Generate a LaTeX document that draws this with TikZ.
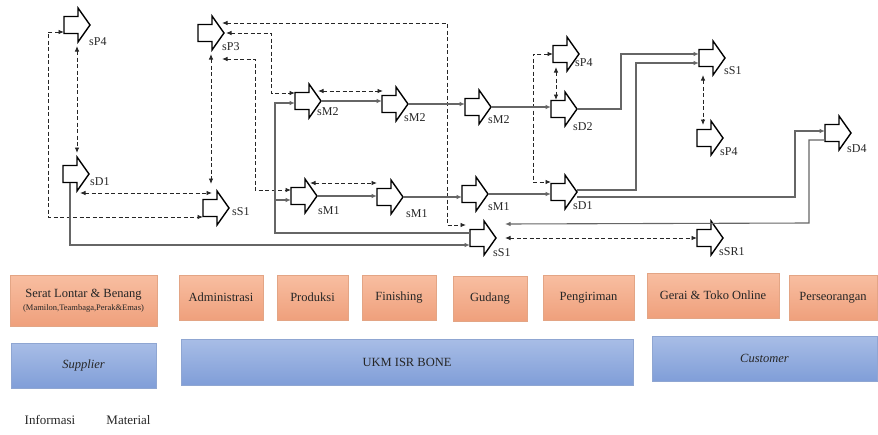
\documentclass[tikz,border=0pt]{standalone}
\usepackage{fontspec}
\setmainfont{Liberation Serif}
\usetikzlibrary{arrows.meta,calc}

\definecolor{salmontop}{HTML}{F8BEA1}
\definecolor{salmonbot}{HTML}{EFA07C}
\definecolor{salmonrim}{HTML}{E3A585}
\definecolor{bluetop}{HTML}{A8BDE6}
\definecolor{bluebot}{HTML}{809ED8}
\definecolor{bluerim}{HTML}{8FA6D2}

% one block arrow: named node plus its outline
\newcommand\blockarrow[3]{%
  \node[blkbox] (#1) at ({#2+13},{#3}) {};
  \draw[blkline] ($(#1.west)+(0,-8.5)$) -- ++(14,0) -- ++(0,-8.5) -- ++(12,17)
    -- ++(-12,17) -- ++(0,-8.5) -- ++(-14,0) -- cycle;
}

\begin{document}
\begin{tikzpicture}[x=1pt,y=-1pt,
  blkbox/.style={rectangle,minimum width=26pt,minimum height=34pt,inner sep=0pt,outer sep=0pt},
  blkline/.style={draw=black,line width=1.4pt,line join=miter},
  lbl/.style={font=\fontsize{12}{14}\selectfont,inner sep=0pt,anchor=west,text=black!85},
  info/.style={draw=black!85,line width=0.9pt,dash pattern=on 4pt off 2.5pt},
  mat/.style={draw=black!60,line width=1.1pt},
  biarr/.style={{Latex[length=5.5pt,width=4.5pt]}-{Latex[length=5.5pt,width=4.5pt]}},
  onearr/.style={-{Latex[length=5.5pt,width=4.5pt]}},
  obox/.style={rectangle,draw=salmonrim,line width=0.6pt,top color=salmontop,bottom color=salmonbot,
    inner sep=0pt,font=\fontsize{12.5}{14}\selectfont,text=black!85},
  bbox/.style={rectangle,draw=bluerim,line width=0.6pt,top color=bluetop,bottom color=bluebot,
    inner sep=0pt,font=\fontsize{12.5}{14}\selectfont,text=black!85},
  legend/.style={font=\fontsize{13}{15}\selectfont,inner sep=0pt,text=black!85}
]
\useasboundingbox (0,0) rectangle (878,434);

% ---- block arrows (name, body left x, centre y)
\blockarrow{sP4L}{64}{25}
\blockarrow{sD1L}{63}{174}
\blockarrow{sP3}{198}{33}
\blockarrow{sS1L}{203}{208}
\blockarrow{sM2a}{295}{101}
\blockarrow{sM2b}{382}{104}
\blockarrow{sM2c}{465}{107}
\blockarrow{sM1a}{291}{196}
\blockarrow{sM1b}{377}{197}
\blockarrow{sM1c}{462}{194}
\blockarrow{sS1m}{470}{238}
\blockarrow{sP4m}{553}{54}
\blockarrow{sD2}{551}{109}
\blockarrow{sD1r}{551}{192}
\blockarrow{sS1r}{699}{58}
\blockarrow{sP4r}{697}{138}
\blockarrow{sD4}{825}{133}
\blockarrow{sSR1}{697}{238}

% ---- labels
\node[lbl] (lsP4L) at (89,42) {sP4};
\node[lbl] (lsD1L) at (90,182) {sD1};
\node[lbl] (lsP3) at (222,47) {sP3};
\node[lbl] (lsS1L) at (232,212) {sS1};
\node[lbl] (lsM2a) at (317,112) {sM2};
\node[lbl] (lsM2b) at (404,118) {sM2};
\node[lbl] (lsM2c) at (488,120) {sM2};
\node[lbl] (lsM1a) at (318,211) {sM1};
\node[lbl] (lsM1b) at (406,214) {sM1};
\node[lbl] (lsM1c) at (488,207) {sM1};
\node[lbl] (lsS1m) at (493,253) {sS1};
\node[lbl] (lsP4m) at (575,63) {sP4};
\node[lbl] (lsD2) at (573,127) {sD2};
\node[lbl] (lsD1r) at (573,206) {sD1};
\node[lbl] (lsS1r) at (724,71) {sS1};
\node[lbl] (lsP4r) at (720,152) {sP4};
\node[lbl] (lsD4) at (847,149) {sD4};
\node[lbl] (lsSR1) at (719,252) {sSR1};

% ---- information flows (dashed, both ways)
\draw[info,biarr,shorten <=4pt,shorten >=4pt] (sP4L.south) -- (sP4L.south |- sD1L.north);
\draw[info,biarr,shorten <=4pt,shorten >=7pt] (sP3.south) -- (sP3.south |- sS1L.north);
\draw[info,biarr] ($(sD1L.south)+(4,2)$) -- ($(sS1L.north)+(-4,2)$);
\draw[info,biarr] (sP4L.west |- 0,32) -| (48,217) -- (sS1L.west |- 0,217);
\draw[info,biarr,shorten >=4pt] ($(sP3.east)+(-2,-10)$) -| (447,225) -- (sS1m.west |- 0,225);
\draw[info,biarr] ($(sP3.east)+(2,0)$) -| (271,93) -- (sM2a.west |- 0,93);
\draw[info,biarr] ($(sP3.south)+(11,9)$) -| (255,190) -- (sM1a.west |- 0,190);
\draw[info,biarr] ($(sM2a.east)+(-3,-10)$) -- ($(sM2b.west)+(1,-13)$);
\draw[info,biarr] ($(sM1a.east)+(-7,-13)$) -- ($(sM1b.west)+(0,-14)$);
\draw[info,biarr] (sP4m.west) -| (533,182) -- (sD1r.west |- 0,182);
\draw[info,biarr] ($(sP4m.south west)+(3,-4)$) -- ($(sD2.north west)+(5,8)$);
\draw[info,biarr] ($(sS1r.south west)+(4,0)$) -- ($(sP4r.north west)+(6,4)$);
\draw[info,biarr] ($(sS1m.east)+(9,0)$) -- (sSR1.west |- sS1m.east);

% ---- material flows (solid)
\coordinate (split) at (275,200);
\draw[mat,onearr] (sS1m.west |- 0,233) -| (275,103) -- (sM2a.west |- 0,103);
\draw[mat,onearr] (split) -- (sM1a.west |- split);
\draw[mat,onearr] ($(sD1L.west)+(7,8.5)$) |- (sS1m.west |- 0,245);
\draw[mat,onearr] (sM2a.east) -- (sM2a.east -| sM2b.west);
\draw[mat,onearr] (sM2b.east) -- (sM2b.east -| sM2c.west);
\draw[mat,onearr] (sM2c.east) -- (sM2c.east -| sD2.west);
\draw[mat,onearr] (sM1a.east) -- (sM1a.east -| sM1b.west);
\draw[mat,onearr] (sM1b.east) -- (sM1b.east -| sM1c.west);
\draw[mat,onearr] (sM1c.east) -- (sM1c.east -| sD1r.west);
\draw[mat,onearr] (sD2.east) -| (621,54) -- (sS1r.west |- 0,54);
\draw[mat,onearr] ($(sD1r.east)+(0,-2)$) -| (636,63) -- (sS1r.west |- 0,63);
\draw[mat,onearr] ($(sD1r.east)+(0,5)$) -| (795,131) -- (sD4.west |- 0,131);
\draw[mat,onearr] (sD4.west |- 0,140) -| (809,223) -- ($(sS1m.east)+(9,-14)$);

% ---- actor boxes
\node[obox,minimum width=147pt,minimum height=51pt,align=center] (serat) at (83.5,300.5)
  {Serat Lontar \& Benang\\[-1pt]{\fontsize{8.5}{10}\selectfont(Mamilon,Teambaga,Perak\&Emas)}};
\node[obox,minimum width=84pt,minimum height=45pt] (adm) at (221,297.5) {Administrasi};
\node[obox,minimum width=71pt,minimum height=45pt] (prod) at (312.5,297.5) {Produksi};
\node[obox,minimum width=74pt,minimum height=45pt] (fin) at (399,297.5) {Finishing};
\node[obox,minimum width=74pt,minimum height=45pt] (gud) at (490,298.5) {Gudang};
\node[obox,minimum width=91pt,minimum height=45pt] (kirim) at (588.5,297.5) {Pengiriman};
\node[obox,minimum width=132pt,minimum height=45pt] (gerai) at (713,295.5) {Gerai \& Toko Online};
\node[obox,minimum width=88pt,minimum height=45pt] (orang) at (833,297.5) {Perseorangan};

\node[bbox,minimum width=145pt,minimum height=45pt,font=\fontsize{12.5}{14}\selectfont\itshape] (sup) at (83.5,365.5) {Supplier};
\node[bbox,minimum width=452pt,minimum height=46pt] (ukm) at (407,362) {UKM ISR BONE};
\node[bbox,minimum width=225pt,minimum height=45pt,font=\fontsize{12.5}{14}\selectfont\itshape] (cust) at (764.5,358.5) {Customer};

% ---- legend texts
\node[legend] (leginfo) at (50,420) {Informasi};
\node[legend] (legmat) at (128.5,420) {Material};
\end{tikzpicture}
\end{document}
